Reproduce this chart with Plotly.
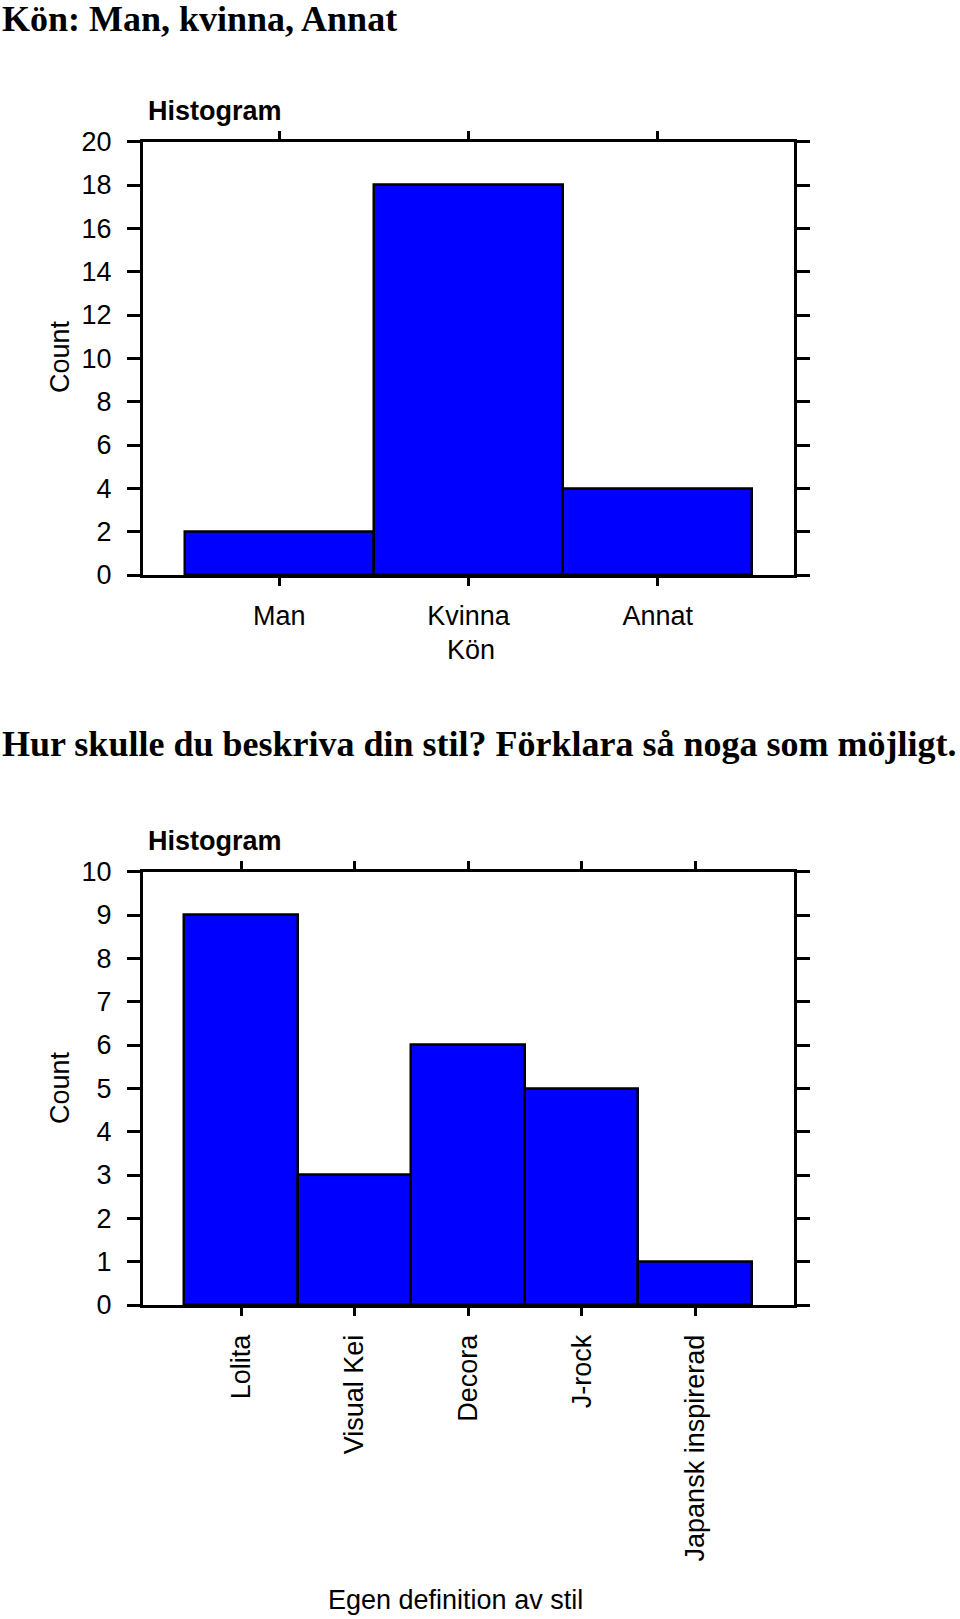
import plotly.graph_objects as go

# Chart 1 data
kon_categories = ["Man", "Kvinna", "Annat"]
kon_counts = [2, 18, 4]
kon_yticks = [0, 2, 4, 6, 8, 10, 12, 14, 16, 18, 20]

# Chart 2 data
stil_categories = ["Lolita", "Visual Kei", "Decora", "J-rock", "Japansk inspirerad"]
stil_counts = [9, 3, 6, 5, 1]
stil_yticks = [0, 1, 2, 3, 4, 5, 6, 7, 8, 9, 10]

W, H = 960, 1619
SANS = "Liberation Sans, Arial, Helvetica, sans-serif"
SERIF = "Liberation Serif, Times New Roman, serif"
FS = 27

def py(px):
    return 1 - px / H

fig = go.Figure()
fig.add_trace(go.Bar(x=kon_categories, y=kon_counts, width=1, xaxis="x", yaxis="y",
                     marker=dict(color="#0000FF", line=dict(color="black", width=2.5)),
                     showlegend=False))
fig.add_trace(go.Bar(x=stil_categories, y=stil_counts, width=1, xaxis="x2", yaxis="y2",
                     marker=dict(color="#0000FF", line=dict(color="black", width=2.5)),
                     showlegend=False))

xd = [143 / W, 794 / W]
common_axis = dict(showline=True, linecolor="black", linewidth=3, mirror="ticks",
                   ticks="outside", tickcolor="black", tickwidth=3, showgrid=False,
                   zeroline=False, automargin=False,
                   tickfont=dict(family=SANS, size=FS, color="black"))

fig.update_layout(
    width=W, height=H, margin=dict(l=0, r=0, t=0, b=0, pad=0, autoexpand=False),
    paper_bgcolor="white", plot_bgcolor="white", bargap=0,
    xaxis=dict(domain=xd, anchor="y", type="category", range=[-0.72, 2.72],
               ticklen=8, ticklabelstandoff=7, **common_axis),
    yaxis=dict(domain=[py(575), py(141.7)], anchor="x", range=[0, 20],
               tickvals=kon_yticks, ticklen=13, ticklabelstandoff=10, **common_axis),
    xaxis2=dict(domain=xd, anchor="y2", type="category", range=[-0.865, 4.87],
                ticklen=8, tickangle=-90, ticklabelstandoff=8, **common_axis),
    yaxis2=dict(domain=[py(1305), py(871.7)], anchor="x2", range=[0, 10],
                tickvals=stil_yticks, ticklen=13, ticklabelstandoff=10, **common_axis),
)

ann = [
    dict(text="<b>Kön: Man, kvinna, Annat</b>", x=0, y=py(19), xanchor="left", yanchor="middle",
         font=dict(family=SERIF, size=36, color="black")),
    dict(text="<b>Hur skulle du beskriva din stil? Förklara så noga som möjligt.</b>", x=0, y=py(744),
         xanchor="left", yanchor="middle", font=dict(family=SERIF, size=36, color="black")),
    dict(text="<b>Histogram</b>", x=146 / W, y=py(111), xanchor="left", yanchor="middle",
         font=dict(family=SANS, size=FS, color="black")),
    dict(text="<b>Histogram</b>", x=146 / W, y=py(841), xanchor="left", yanchor="middle",
         font=dict(family=SANS, size=FS, color="black")),
    dict(text="Count", x=60 / W, y=py(357), textangle=-90, xanchor="center", yanchor="middle",
         font=dict(family=SANS, size=FS, color="black")),
    dict(text="Count", x=60 / W, y=py(1088), textangle=-90, xanchor="center", yanchor="middle",
         font=dict(family=SANS, size=FS, color="black")),
    dict(text="Kön", x=471 / W, y=py(650), xanchor="center", yanchor="middle",
         font=dict(family=SANS, size=FS, color="black")),
    dict(text="Egen definition av stil", x=455 / W, y=py(1600), xanchor="center", yanchor="middle",
         font=dict(family=SANS, size=FS, color="black")),
]
for a in ann:
    a.update(xref="paper", yref="paper", showarrow=False)
fig.update_layout(annotations=ann)

fig.write_html("out.html")
